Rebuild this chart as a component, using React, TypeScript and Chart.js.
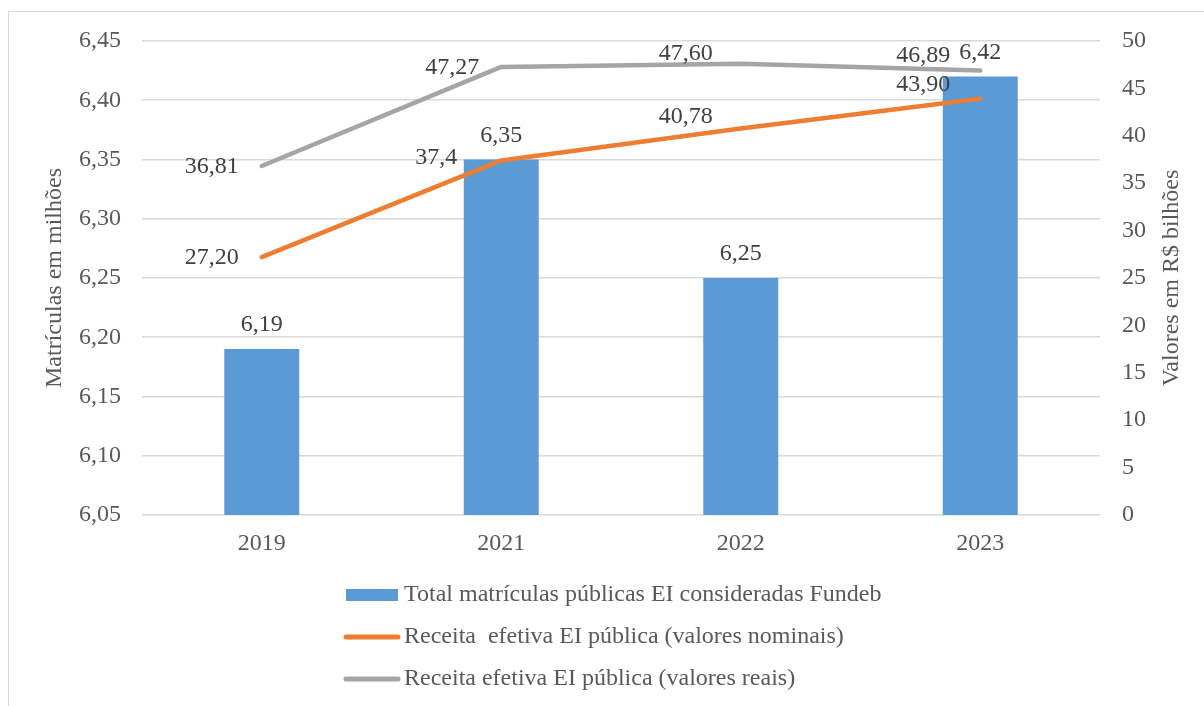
import React, { useEffect, useRef } from "react";
import { Chart, registerables } from "chart.js";

Chart.register(...registerables);

// ---- data ----
const categories = ["2019", "2021", "2022", "2023"];
const matriculas = [6.19, 6.35, 6.25, 6.42];
const receitaNominal = [27.2, 37.4, 40.78, 43.9];
const receitaReal = [36.81, 47.27, 47.6, 46.89];
const matriculasLabels = ["6,19", "6,35", "6,25", "6,42"];
const nominalLabels = ["27,20", "37,4", "40,78", "43,90"];
const realLabels = ["36,81", "47,27", "47,60", "46,89"];
const seriesNames = [
  "Total matrículas públicas EI consideradas Fundeb",
  "Receita  efetiva EI pública (valores nominais)",
  "Receita efetiva EI pública (valores reais)",
];
const leftAxisTitle = "Matrículas em milhões";
const rightAxisTitle = "Valores em R$ bilhões";

// ---- styles ----
const FONT = "'Liberation Serif', 'Times New Roman', serif";
const BLUE = "#5B9BD5";
const ORANGE = "#ED7D31";
const GRAY = "#A5A5A5";
const TEXT = "#595959";
const LABEL = "#404040";
const GRID = "#d9d9d9";
const nominalOffsets = [[-50, 1], [-65, -3], [-55, -12], [-57, -14]];
const realOffsets = [[-50, 1], [-49, 1], [-55, -10], [-57, -15]];

const overlayPlugin = {
  id: "overlay",
  afterDatasetsDraw(chart: any) {
    const ctx = chart.ctx;
    ctx.save();
    ctx.font = `24px ${FONT}`;
    ctx.fillStyle = LABEL;
    ctx.textAlign = "center";
    ctx.textBaseline = "middle";
    const barMeta = chart.getDatasetMeta(0);
    barMeta.data.forEach((el: any, i: number) => {
      ctx.fillText(matriculasLabels[i], el.x, el.y - 24);
    });
    const nomMeta = chart.getDatasetMeta(1);
    nomMeta.data.forEach((el: any, i: number) => {
      ctx.fillText(nominalLabels[i], el.x + nominalOffsets[i][0], el.y + nominalOffsets[i][1]);
    });
    const realMeta = chart.getDatasetMeta(2);
    realMeta.data.forEach((el: any, i: number) => {
      ctx.fillText(realLabels[i], el.x + realOffsets[i][0], el.y + realOffsets[i][1]);
    });
    ctx.restore();
  },
  afterDraw(chart: any) {
    const ctx = chart.ctx;
    const area = chart.chartArea;
    const midY = (area.top + area.bottom) / 2;
    ctx.save();
    ctx.font = `24px ${FONT}`;
    ctx.fillStyle = TEXT;
    ctx.textAlign = "center";
    ctx.textBaseline = "middle";
    // axis titles
    ctx.save();
    ctx.translate(55, midY);
    ctx.rotate(-Math.PI / 2);
    ctx.fillText(leftAxisTitle, 0, 0);
    ctx.restore();
    ctx.save();
    ctx.translate(1172, midY);
    ctx.rotate(-Math.PI / 2);
    ctx.fillText(rightAxisTitle, 0, 0);
    ctx.restore();
    // legend
    const lx = 346;
    const lw = 52;
    const tx = 404;
    const rows = [595, 637, 679];
    ctx.textAlign = "left";
    ctx.fillStyle = BLUE;
    ctx.fillRect(lx, rows[0] - 6, lw, 12);
    ctx.lineWidth = 5;
    ctx.lineCap = "round";
    ctx.strokeStyle = ORANGE;
    ctx.beginPath();
    ctx.moveTo(lx, rows[1]);
    ctx.lineTo(lx + lw, rows[1]);
    ctx.stroke();
    ctx.strokeStyle = GRAY;
    ctx.beginPath();
    ctx.moveTo(lx, rows[2]);
    ctx.lineTo(lx + lw, rows[2]);
    ctx.stroke();
    ctx.fillStyle = TEXT;
    seriesNames.forEach((name, i) => ctx.fillText(name, tx, rows[i]));
    ctx.restore();
  },
};

export default function App() {
  const ref = useRef<HTMLCanvasElement>(null);
  useEffect(() => {
    if (!ref.current) return;
    const chart = new Chart(ref.current, {
      type: "bar",
      data: {
        labels: categories,
        datasets: [
          {
            type: "bar",
            label: seriesNames[0],
            data: matriculas,
            backgroundColor: BLUE,
            yAxisID: "y",
            order: 3,
            categoryPercentage: 1,
            barPercentage: 0.313,
          },
          {
            type: "line",
            label: seriesNames[1],
            data: receitaNominal,
            borderColor: ORANGE,
            backgroundColor: ORANGE,
            borderWidth: 4.5,
            borderCapStyle: "round",
            borderJoinStyle: "round",
            pointRadius: 0,
            tension: 0,
            yAxisID: "y1",
            order: 1,
          },
          {
            type: "line",
            label: seriesNames[2],
            data: receitaReal,
            borderColor: GRAY,
            backgroundColor: GRAY,
            borderWidth: 4.5,
            borderCapStyle: "round",
            borderJoinStyle: "round",
            pointRadius: 0,
            tension: 0,
            yAxisID: "y1",
            order: 2,
          },
        ] as any,
      },
      options: {
        animation: false,
        responsive: true,
        maintainAspectRatio: false,
        layout: { padding: { top: 41, left: 0, right: 0, bottom: 0 } },
        plugins: { legend: { display: false }, tooltip: { enabled: false } },
        scales: {
          x: {
            grid: { display: false, drawTicks: false },
            border: { display: false },
            ticks: { color: TEXT, font: { family: FONT, size: 24 }, padding: 14 },
            afterFit: (s: any) => { s.height = 191; },
          },
          y: {
            position: "left",
            min: 6.05,
            max: 6.45,
            ticks: {
              stepSize: 0.05,
              color: TEXT,
              font: { family: FONT, size: 24 },
              padding: 21,
              callback: (v: any) => Number(v).toFixed(2).replace(".", ","),
            },
            grid: { color: GRID, lineWidth: 1.5, drawTicks: false },
            border: { display: false },
            afterFit: (s: any) => { s.width = 142; },
          },
          y1: {
            position: "right",
            min: 0,
            max: 50,
            ticks: {
              stepSize: 5,
              color: TEXT,
              font: { family: FONT, size: 24 },
              padding: 22,
            },
            grid: { display: false, drawTicks: false },
            border: { display: false },
            afterFit: (s: any) => { s.width = 104; },
          },
        },
      } as any,
      plugins: [overlayPlugin],
    });
    return () => chart.destroy();
  }, []);
  return (
    <>
      <div
        style={{
          position: "fixed",
          left: 8,
          top: 11,
          width: 1220,
          height: 720,
          borderTop: "1px solid #d9d9d9",
          borderLeft: "1px solid #d9d9d9",
          boxSizing: "border-box",
        }}
      />
      <div style={{ position: "fixed", left: 0, top: 0, width: 1204, height: 706 }}>
        <canvas ref={ref} />
      </div>
    </>
  );
}
